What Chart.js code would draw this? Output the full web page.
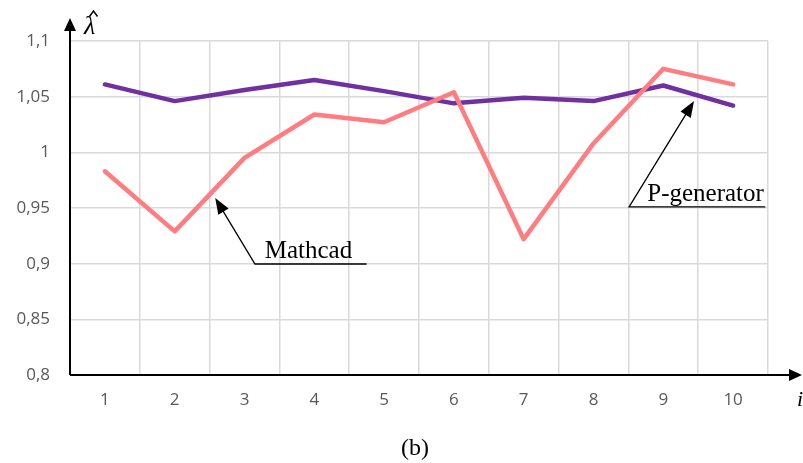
<!DOCTYPE html>
<html lang="en">
<head>
<meta charset="utf-8">
<title>Lambda estimate</title>
<script src="https://cdn.jsdelivr.net/npm/chart.js@4.4.0/dist/chart.umd.min.js"></script>
<style>
  html, body { margin: 0; padding: 0; background: #fff; }
  #wrap { width: 803px; height: 463px; }
</style>
</head>
<body>
<div id="wrap"><canvas id="chart" width="803" height="463"></canvas></div>
<script>
// chart values
const labels = ['1', '2', '3', '4', '5', '6', '7', '8', '9', '10'];
const mathcad = [0.983, 0.929, 0.995, 1.034, 1.027, 1.054, 0.922, 1.008, 1.075, 1.061];
const pgen = [1.061, 1.046, 1.056, 1.065, 1.055, 1.044, 1.049, 1.046, 1.060, 1.042];
const yTicks = [0.8, 0.85, 0.9, 0.95, 1, 1.05, 1.1];

// callouts: arrow tip and base in data units (x = category index)
const callouts = [
  { text: 'Mathcad', tip: [1.58, 0.959], base: [2.15, 0.8997], lineEnd: 3.75, textAt: 2.29 },
  { text: 'P-generator', tip: [8.44, 1.046], base: [7.51, 0.951], lineEnd: 9.46, textAt: 7.77 }
];

function arrowHead(ctx, x0, y0, x1, y1, len, half) {
  const a = Math.atan2(y1 - y0, x1 - x0);
  ctx.beginPath();
  ctx.moveTo(x1, y1);
  ctx.lineTo(x1 - len * Math.cos(a) + half * Math.sin(a), y1 - len * Math.sin(a) - half * Math.cos(a));
  ctx.lineTo(x1 - len * Math.cos(a) - half * Math.sin(a), y1 - len * Math.sin(a) + half * Math.cos(a));
  ctx.closePath();
  ctx.fill();
}

// axes with arrows, axis titles, callouts and the caption
const extras = {
  id: 'extras',
  afterDraw(chart) {
    const ctx = chart.ctx;
    const xs = chart.scales.x, ys = chart.scales.y;
    const area = chart.chartArea;
    ctx.save();
    ctx.strokeStyle = '#000';
    ctx.fillStyle = '#000';
    ctx.lineWidth = 2;
    // y axis
    ctx.beginPath();
    ctx.moveTo(area.left, area.bottom);
    ctx.lineTo(area.left, 26);
    ctx.stroke();
    arrowHead(ctx, area.left, area.bottom, area.left, 18, 13, 6);
    // x axis
    ctx.beginPath();
    ctx.moveTo(area.left, area.bottom);
    ctx.lineTo(794, area.bottom);
    ctx.stroke();
    arrowHead(ctx, area.left, area.bottom, 802, area.bottom, 13, 6);

    // axis titles
    ctx.font = 'italic 26px "Liberation Serif"';
    ctx.textAlign = 'left';
    ctx.textBaseline = 'alphabetic';
    ctx.fillText('\u03bb', 84, 34);
    ctx.lineWidth = 1.4;
    ctx.beginPath();
    ctx.moveTo(89.5, 16.5);
    ctx.lineTo(93.5, 11);
    ctx.lineTo(97.5, 16.5);
    ctx.stroke();
    ctx.font = 'italic 22px "Liberation Serif"';
    ctx.fillText('i', 797, 406);

    // callouts
    ctx.lineWidth = 1.3;
    callouts.forEach(c => {
      const tx = xs.getPixelForValue(c.tip[0]), ty = ys.getPixelForValue(c.tip[1]);
      const bx = xs.getPixelForValue(c.base[0]), by = ys.getPixelForValue(c.base[1]);
      const ex = xs.getPixelForValue(c.lineEnd);
      ctx.beginPath();
      ctx.moveTo(ex, by);
      ctx.lineTo(bx, by);
      ctx.lineTo(tx + (bx - tx) * 0.1, ty + (by - ty) * 0.1);
      ctx.stroke();
      arrowHead(ctx, bx, by, tx, ty, 16, 6);
      ctx.font = '25px "Liberation Serif"';
      ctx.textAlign = 'left';
      ctx.fillText(c.text, xs.getPixelForValue(c.textAt), by - 6);
    });

    // caption
    ctx.font = '24px "Liberation Serif"';
    ctx.textAlign = 'center';
    ctx.fillText('(b)', 415, 455);
    ctx.restore();
  }
};

new Chart(document.getElementById('chart'), {
  type: 'line',
  data: {
    labels: labels,
    datasets: [
      {
        label: 'Mathcad',
        data: mathcad,
        borderColor: '#ff7c80',
        borderWidth: 4.5,
        pointRadius: 0,
        tension: 0,
        borderCapStyle: 'round',
        borderJoinStyle: 'round'
      },
      {
        label: 'P-generator',
        data: pgen,
        borderColor: '#7030a0',
        borderWidth: 4.5,
        pointRadius: 0,
        tension: 0,
        borderCapStyle: 'round',
        borderJoinStyle: 'round'
      }
    ]
  },
  options: {
    responsive: false,
    animation: false,
    events: [],
    layout: { padding: { left: 0, top: 41, right: 35, bottom: 0 } },
    plugins: { legend: { display: false }, tooltip: { enabled: false } },
    scales: {
      x: {
        offset: true,
        grid: { offset: true, color: '#d9d9d9', lineWidth: 1.5, drawTicks: false },
        border: { display: false },
        ticks: { color: '#595959', font: { family: 'Open Sans', size: 17 }, padding: 15 },
        afterFit(scale) { scale.height = 88; }
      },
      y: {
        min: 0.8,
        max: 1.1,
        afterBuildTicks(scale) { scale.ticks = yTicks.map(v => ({ value: v })); },
        grid: { color: '#d9d9d9', lineWidth: 1.5, drawTicks: false },
        border: { display: false },
        ticks: {
          color: '#595959',
          font: { family: 'Open Sans', size: 17 },
          padding: 20,
          callback: v => String(v).replace('.', ',')
        },
        afterFit(scale) { scale.width = 70; }
      }
    }
  },
  plugins: [extras]
});
</script>
</body>
</html>
